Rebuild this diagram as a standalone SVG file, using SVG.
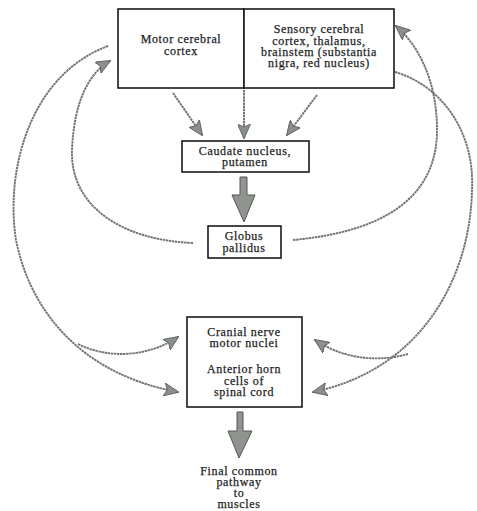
<svg xmlns="http://www.w3.org/2000/svg" width="477" height="511" viewBox="0 0 477 511">
<style>
.box{fill:#fff;stroke:#1a1a1a;stroke-width:1.6}
.t{font-family:"Liberation Serif",serif;font-size:12px;fill:#1e1e1e;stroke:#1e1e1e;stroke-width:0.25;text-anchor:middle;letter-spacing:0.65px}
.c{fill:none;stroke:#727272;stroke-width:1.9;stroke-dasharray:2.5 0.6}
.thick{fill:#8f948f;stroke:#555;stroke-width:1}
</style>
<defs>
<marker id="ah" viewBox="0 0 15 13" refX="14" refY="6.5" markerWidth="15" markerHeight="13" markerUnits="userSpaceOnUse" orient="auto">
<path d="M0,0 L15,6.5 L0,13 L3,6.5 Z" fill="#8a908a" stroke="#555" stroke-width="0.8"/>
</marker>
</defs>
<g id="connectors">
<path class="c" d="M173,93 L202,135" marker-end="url(#ah)"/>
<path class="c" d="M244,90 L244,138" marker-end="url(#ah)"/>
<path class="c" d="M317,95 L287,135" marker-end="url(#ah)"/>
<polygon class="thick" points="240,177 247,177 247,195 255,195 244,222 232,195 240,195"/>
<polygon class="thick" points="237,412 243,412 243,431 252,431 239,458 228,431 237,431"/>
<path class="c" d="M193,243 C120,240 70,205 72,150 C74,100 90,72 110,61" marker-end="url(#ah)"/>
<path class="c" d="M108,46 C30,75 5,170 16,240 C30,310 80,374 178,392" marker-end="url(#ah)"/>
<path class="c" d="M78,344 C110,360 150,356 178,337" marker-end="url(#ah)"/>
<path class="c" d="M293,240 C380,232 437,200 437,130 C437,80 418,45 396,26" marker-end="url(#ah)"/>
<path class="c" d="M395,72 C440,85 475,130 472,190 C470,280 420,370 313,392" marker-end="url(#ah)"/>
<path class="c" d="M408,354 C380,362 345,360 315,340" marker-end="url(#ah)"/>
</g>
<g id="motor-cortex">
<rect class="box" x="118" y="9" width="126" height="79"/>
<text class="t" x="181" y="43">Motor cerebral</text>
<text class="t" x="181" y="55">cortex</text>
</g>
<g id="sensory">
<rect class="box" x="244" y="9" width="150" height="79"/>
<text class="t" x="319" y="33">Sensory cerebral</text>
<text class="t" x="319" y="45">cortex, thalamus,</text>
<text class="t" x="319" y="56">brainstem (substantia</text>
<text class="t" x="319" y="67">nigra, red nucleus)</text>
</g>
<g id="caudate">
<rect class="box" x="182" y="141" width="127" height="31"/>
<text class="t" x="245" y="155">Caudate nucleus,</text>
<text class="t" x="245" y="166">putamen</text>
</g>
<g id="globus">
<rect class="box" x="208" y="226" width="73" height="32"/>
<text class="t" x="244" y="240">Globus</text>
<text class="t" x="244" y="252">pallidus</text>
</g>
<g id="motor-nuclei">
<rect class="box" x="187" y="317" width="115" height="90"/>
<text class="t" x="244" y="336">Cranial nerve</text>
<text class="t" x="244" y="347">motor nuclei</text>
<text class="t" x="244" y="373">Anterior horn</text>
<text class="t" x="244" y="385">cells of</text>
<text class="t" x="244" y="396">spinal cord</text>
</g>
<g id="final">
<text class="t" x="239" y="475">Final common</text>
<text class="t" x="239" y="486">pathway</text>
<text class="t" x="239" y="497">to</text>
<text class="t" x="239" y="508">muscles</text>
</g>
</svg>
